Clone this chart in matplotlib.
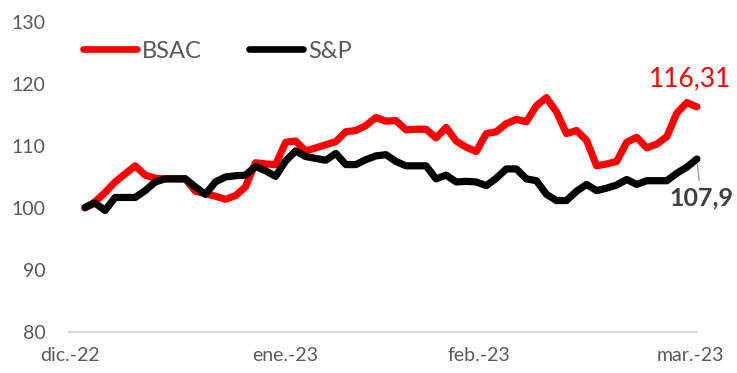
import numpy as np
import matplotlib
matplotlib.use("Agg")
import matplotlib.pyplot as plt

plt.rcParams['font.family'] = ['Lato', 'DejaVu Sans']

# índice base 100 (diario, dic.-22 a mar.-23)
bsac = [100.0, 101.0, 102.5, 104.2, 105.5, 106.8, 105.3, 104.8, 104.7, 104.7,
        104.7, 102.7, 102.3, 101.9, 101.4, 102.0, 103.4, 107.3, 107.1, 107.0,
        110.6, 110.8, 109.2, 109.7, 110.2, 110.7, 112.3, 112.5, 113.3, 114.6,
        114.0, 114.1, 112.6, 112.7, 112.7, 111.3, 113.0, 110.8, 109.8, 109.1,
        112.0, 112.3, 113.6, 114.3, 113.9, 116.5, 117.8, 115.5, 112.0, 112.5,
        110.9, 106.8, 107.1, 107.5, 110.6, 111.4, 109.7, 110.3, 111.5, 115.3,
        117.0, 116.31]
sp = [100.1, 100.8, 99.6, 101.7, 101.7, 101.7, 102.8, 104.2, 104.7, 104.7,
      104.7, 103.4, 102.2, 104.2, 105.0, 105.2, 105.3, 106.7, 106.0, 105.1,
      107.6, 109.2, 108.3, 108.0, 107.7, 108.8, 107.0, 107.0, 107.8, 108.4,
      108.6, 107.5, 106.8, 106.8, 106.8, 104.7, 105.3, 104.2, 104.3, 104.2,
      103.6, 104.8, 106.3, 106.3, 104.7, 104.4, 102.2, 101.2, 101.2, 102.7,
      103.8, 102.8, 103.2, 103.7, 104.6, 103.8, 104.4, 104.4, 104.4, 105.6,
      106.6, 107.9]

month_labels = ['dic.-22', 'ene.-23', 'feb.-23', 'mar.-23']
month_pos = [-1.5, 20.0, 39.3, 60.3]
y_ticks = [80, 90, 100, 110, 120, 130]

x = np.arange(len(bsac))

fig = plt.figure(figsize=(7.37, 3.73), dpi=100)
ax = fig.add_axes([0.0936, 0.110, 0.852, 0.831])

ax.plot(x, bsac, color='#FF0000', lw=5.2, solid_capstyle='round',
        solid_joinstyle='round', label='BSAC', clip_on=False)
ax.plot(x, sp, color='#000000', lw=5.2, solid_capstyle='round',
        solid_joinstyle='round', label='S&P', clip_on=False)

ax.set_xlim(-1.6, 61.0)
ax.set_ylim(80, 130)
ax.set_yticks(y_ticks)
ax.set_xticks(month_pos)
ax.set_xticklabels(month_labels)

for s in ['top', 'right', 'left']:
    ax.spines[s].set_visible(False)
ax.spines['bottom'].set_color('#D9D9D9')
ax.spines['bottom'].set_linewidth(1.5)
ax.tick_params(axis='both', length=0, labelsize=14, colors='#595959')
ax.tick_params(axis='y', pad=17)
ax.tick_params(axis='x', pad=11)

leg = ax.legend(loc='center left', bbox_to_anchor=(0.022, 0.906), ncol=2,
                frameon=False, fontsize=17, handlelength=2.3,
                handletextpad=0.2, columnspacing=2.0,
                borderpad=0, borderaxespad=0)
for t in leg.get_texts():
    t.set_color('#595959')
for h in leg.get_lines():
    h.set_linewidth(4.8)

# etiquetas de último valor
ax.annotate('116,31', xy=(x[-1], bsac[-1]), xytext=(-5, 20),
            textcoords='offset points', ha='center', va='center',
            fontsize=19, color='#FF0000', annotation_clip=False)
ax.annotate('107,9', xy=(x[-1], sp[-1]), xytext=(3, -28),
            textcoords='offset points', ha='center', va='center',
            fontsize=18, fontweight='bold', color='#404040',
            annotation_clip=False,
            arrowprops=dict(arrowstyle='-', color='#A6A6A6', lw=1,
                            shrinkA=2, shrinkB=4))

fig.savefig('out.png', dpi=100)
